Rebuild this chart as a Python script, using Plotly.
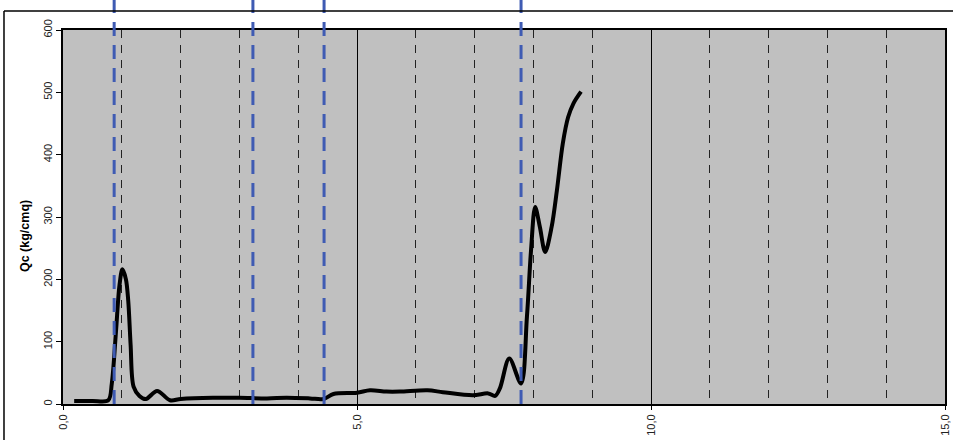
import plotly.graph_objects as go

depth = [0.19, 0.5, 0.77, 0.83, 0.9, 0.96, 1.01, 1.07, 1.11, 1.15, 1.2, 1.3, 1.41, 1.6, 1.82, 2.0, 2.55, 3.0,
         3.47, 3.8, 4.2, 4.43, 4.6, 5.0, 5.22, 5.5, 5.73, 6.2, 6.46, 6.97, 7.23, 7.35, 7.43,
         7.59, 7.79, 7.89, 7.96, 8.03, 8.11, 8.2, 8.31, 8.4, 8.5, 8.59, 8.68, 8.81]
qc = [5, 5, 6, 33, 115, 190, 216, 200, 165, 95, 28, 13, 8, 21, 6, 8, 10, 10,
      9, 10, 9, 8, 16, 18, 22, 20, 20, 22, 19, 14, 17, 13, 25,
      73, 33, 140, 247, 316, 284, 244, 284, 343, 418, 460, 482, 501]

layer_bounds = [0.87, 3.23, 4.44, 7.79]
x_ticks = [0, 5, 10, 15]
x_tick_labels = ["0,0", "5,0", "10,0", "15,0"]
y_ticks = [0, 100, 200, 300, 400, 500, 600]
y_title = "Qc (kg/cmq)"

fig = go.Figure()
fig.add_trace(go.Scatter(x=depth, y=qc, mode="lines",
                         line=dict(color="black", width=4, shape="spline", smoothing=0.9),
                         showlegend=False, hoverinfo="skip"))

shapes = []
for b in layer_bounds:
    shapes.append(dict(type="line", xref="x", yref="paper", x0=b, x1=b, y0=0, y1=1.085,
                       line=dict(color="#3F5BB3", width=3, dash="14px,9px"), layer="above"))
# outer frame lines
shapes.append(dict(type="line", xref="paper", yref="paper", x0=-0.0669, x1=1.02, y0=1.0508, y1=1.0508,
                   line=dict(color="black", width=1.5)))
shapes.append(dict(type="line", xref="paper", yref="paper", x0=-0.0669, x1=-0.0669, y0=1.0508, y1=-0.2,
                   line=dict(color="black", width=1.5)))

fig.update_layout(
    width=953, height=440,
    margin=dict(l=63, r=8, t=30, b=36),
    paper_bgcolor="white", plot_bgcolor="#C0C0C0",
    font=dict(family="Liberation Sans, Arial, sans-serif", size=11, color="#222"),
    shapes=shapes,
    annotations=[dict(text="<b>" + y_title + "</b>", xref="paper", yref="paper",
                      x=-0.0431, y=0.449, xanchor="center", yanchor="middle",
                      textangle=-90, showarrow=False,
                      font=dict(size=12.5, color="black"))],
    xaxis=dict(range=[0, 15], tickvals=x_ticks, ticktext=x_tick_labels, tickangle=-90,
               showline=True, linecolor="black", linewidth=2, mirror=True,
               ticks="outside", ticklen=4, tickcolor="black",
               showgrid=True, gridcolor="black", gridwidth=1,
               minor=dict(dtick=1, showgrid=True, gridcolor="#222", gridwidth=1, griddash="8px,7px"),
               zeroline=False, automargin=False),
    yaxis=dict(range=[0, 600], tickvals=y_ticks, tickangle=-90,
               showline=True, linecolor="black", linewidth=2, mirror=True,
               ticks="outside", ticklen=5, tickcolor="black",
               showgrid=False, zeroline=False, automargin=False),
)

fig.write_html("out.html", config={"displayModeBar": False},
               post_script="document.body.style.margin='0px';")
